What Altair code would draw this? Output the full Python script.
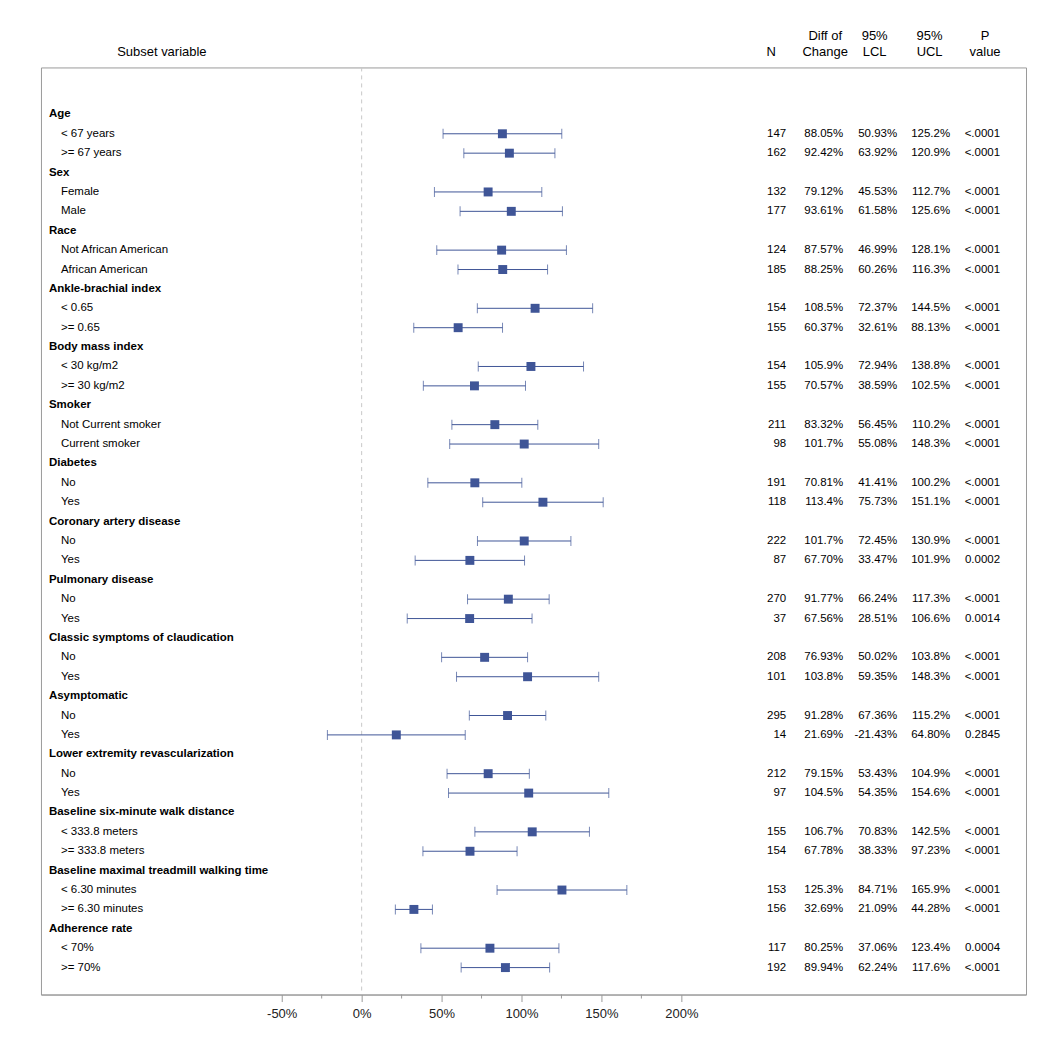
import altair as alt
import pandas as pd

groups = [
    "Age", "Sex", "Race", "Ankle-brachial index", "Body mass index", "Smoker",
    "Diabetes", "Coronary artery disease", "Pulmonary disease",
    "Classic symptoms of claudication", "Asymptomatic",
    "Lower extremity revascularization", "Baseline six-minute walk distance",
    "Baseline maximal treadmill walking time", "Adherence rate",
]
subgroups = [
    ["< 67 years", ">= 67 years"],
    ["Female", "Male"],
    ["Not African American", "African American"],
    ["< 0.65", ">= 0.65"],
    ["< 30 kg/m2", ">= 30 kg/m2"],
    ["Not Current smoker", "Current smoker"],
    ["No", "Yes"],
    ["No", "Yes"],
    ["No", "Yes"],
    ["No", "Yes"],
    ["No", "Yes"],
    ["No", "Yes"],
    ["< 333.8 meters", ">= 333.8 meters"],
    ["< 6.30 minutes", ">= 6.30 minutes"],
    ["< 70%", ">= 70%"],
]
n_values = [147, 162, 132, 177, 124, 185, 154, 155, 154, 155, 211, 98, 191, 118,
            222, 87, 270, 37, 208, 101, 295, 14, 212, 97, 155, 154, 153, 156, 117, 192]
diff = [88.05, 92.42, 79.12, 93.61, 87.57, 88.25, 108.5, 60.37, 105.9, 70.57,
        83.32, 101.7, 70.81, 113.4, 101.7, 67.70, 91.77, 67.56, 76.93, 103.8,
        91.28, 21.69, 79.15, 104.5, 106.7, 67.78, 125.3, 32.69, 80.25, 89.94]
lcl = [50.93, 63.92, 45.53, 61.58, 46.99, 60.26, 72.37, 32.61, 72.94, 38.59,
       56.45, 55.08, 41.41, 75.73, 72.45, 33.47, 66.24, 28.51, 50.02, 59.35,
       67.36, -21.43, 53.43, 54.35, 70.83, 38.33, 84.71, 21.09, 37.06, 62.24]
ucl = [125.2, 120.9, 112.7, 125.6, 128.1, 116.3, 144.5, 88.13, 138.8, 102.5,
       110.2, 148.3, 100.2, 151.1, 130.9, 101.9, 117.3, 106.6, 103.8, 148.3,
       115.2, 64.80, 104.9, 154.6, 142.5, 97.23, 165.9, 44.28, 123.4, 117.6]
p_values = ["<.0001", "<.0001", "<.0001", "<.0001", "<.0001", "<.0001",
            "<.0001", "<.0001", "<.0001", "<.0001", "<.0001", "<.0001",
            "<.0001", "<.0001", "<.0001", "0.0002", "<.0001", "0.0014",
            "<.0001", "<.0001", "<.0001", "0.2845", "<.0001", "<.0001",
            "<.0001", "<.0001", "<.0001", "<.0001", "0.0004", "<.0001"]
x_ticks = [-50, 0, 50, 100, 150, 200]
x_minor = [-25, 25, 75, 125, 175]
header_line1 = ["", "", "Diff of", "95%", "95%", "P"]
header_line2 = ["Subset variable", "N", "Change", "LCL", "UCL", "value"]


def pct(v):
    return f"{v:.1f}%" if abs(v) >= 100 else f"{v:.2f}%"


# ---- build tables ----
grp_rows = []
sub_rows = []
i = 0
for g, (gname, subs) in enumerate(zip(groups, subgroups)):
    grp_rows.append({"row": 3 * g, "label": gname})
    for j, s in enumerate(subs):
        sub_rows.append({
            "row": 3 * g + 1 + j, "label": s,
            "n": str(n_values[i]), "diff": diff[i], "lcl": lcl[i], "ucl": ucl[i],
            "diff_t": pct(diff[i]), "lcl_t": pct(lcl[i]), "ucl_t": pct(ucl[i]),
            "p": p_values[i],
        })
        i += 1
grp_df = pd.DataFrame(grp_rows)
sub_df = pd.DataFrame(sub_rows)

# ---- layout (pixels) ----
W, H = 986, 928
FONT = "Liberation Sans"
BLUE = "#3F5597"
FRAME = "#9A9A9A"

xs = alt.Scale(domain=[-200.6, 415.6], nice=False, zero=False)
ys = alt.Scale(domain=[-2.421, 45.39], nice=False, zero=False, reverse=True)
XAX = alt.Axis(values=x_ticks, labelExpr="datum.value + '%'", title=None,
               grid=False, tickSize=7, tickColor=FRAME, domainColor=FRAME,
               labelFontSize=13, labelColor="#222222", labelPadding=6,
               labelFont=FONT)
Y = alt.Y("row:Q", scale=ys, axis=None)


def X(field):
    return alt.X(field, scale=xs, axis=XAX)


layers = []

# zero reference line
layers.append(
    alt.Chart(pd.DataFrame({"v": [0]})).mark_rule(color="#C8C8C8", strokeDash=[4, 4], strokeWidth=1)
    .encode(x=X("v:Q"), y=alt.value(0), y2=alt.value(H))
)

# minor ticks
layers.append(
    alt.Chart(pd.DataFrame({"v": x_minor})).mark_rule(color=FRAME, strokeWidth=1)
    .encode(x=X("v:Q"), y=alt.value(H), y2=alt.value(H + 4))
)

# error bars
base = alt.Chart(sub_df)
layers.append(
    base.mark_rule(color=BLUE, strokeWidth=1)
    .encode(x=X("lcl:Q"), x2="ucl:Q", y=Y)
)
layers.append(
    base.mark_tick(color=BLUE, orient="vertical", size=10, thickness=1)
    .encode(x=X("lcl:Q"), y=Y)
)
layers.append(
    base.mark_tick(color=BLUE, orient="vertical", size=10, thickness=1)
    .encode(x=X("ucl:Q"), y=Y)
)
# points
layers.append(
    base.mark_square(size=80, color=BLUE, opacity=1, filled=True)
    .encode(x=X("diff:Q"), y=Y)
)

# left labels
layers.append(
    alt.Chart(grp_df).mark_text(align="left", baseline="middle", font=FONT, fontSize=11.5,
                                fontWeight="bold", color="#000000")
    .encode(x=alt.value(8), y=Y, text="label:N")
)
layers.append(
    base.mark_text(align="left", baseline="middle", font=FONT, fontSize=11.5, color="#000000")
    .encode(x=alt.value(20), y=Y, text="label:N")
)

# value columns (right aligned)
col_x = {"n": 746, "diff_t": 803, "lcl_t": 857, "ucl_t": 910, "p": 960}
for field, px in col_x.items():
    layers.append(
        base.mark_text(align="right", baseline="middle", font=FONT, fontSize=11.5, color="#000000")
        .encode(x=alt.value(px), y=Y, text=f"{field}:N")
    )

# headers
header_x = [121, 731, 785, 834.5, 889.5, 945]
for t1, t2, px in zip(header_line1, header_line2, header_x):
    for t, py in ((t1, -31), (t2, -15)):
        if t:
            layers.append(
                alt.Chart(pd.DataFrame({"t": [t]})).mark_text(
                    align="center", baseline="middle", font=FONT, fontSize=13, color="#000000")
                .encode(x=alt.value(px), y=alt.value(py), text="t:N")
            )

chart = (
    alt.layer(*layers)
    .properties(width=W, height=H,
                autosize=alt.AutoSizeParams(type="none"),
                padding={"left": 33, "top": 59, "right": 16, "bottom": 47})
    .configure(font=FONT, view=alt.ViewConfig(stroke=FRAME, strokeWidth=1))
)

chart.save("out.html", embed_options={"renderer": "svg", "actions": False})
